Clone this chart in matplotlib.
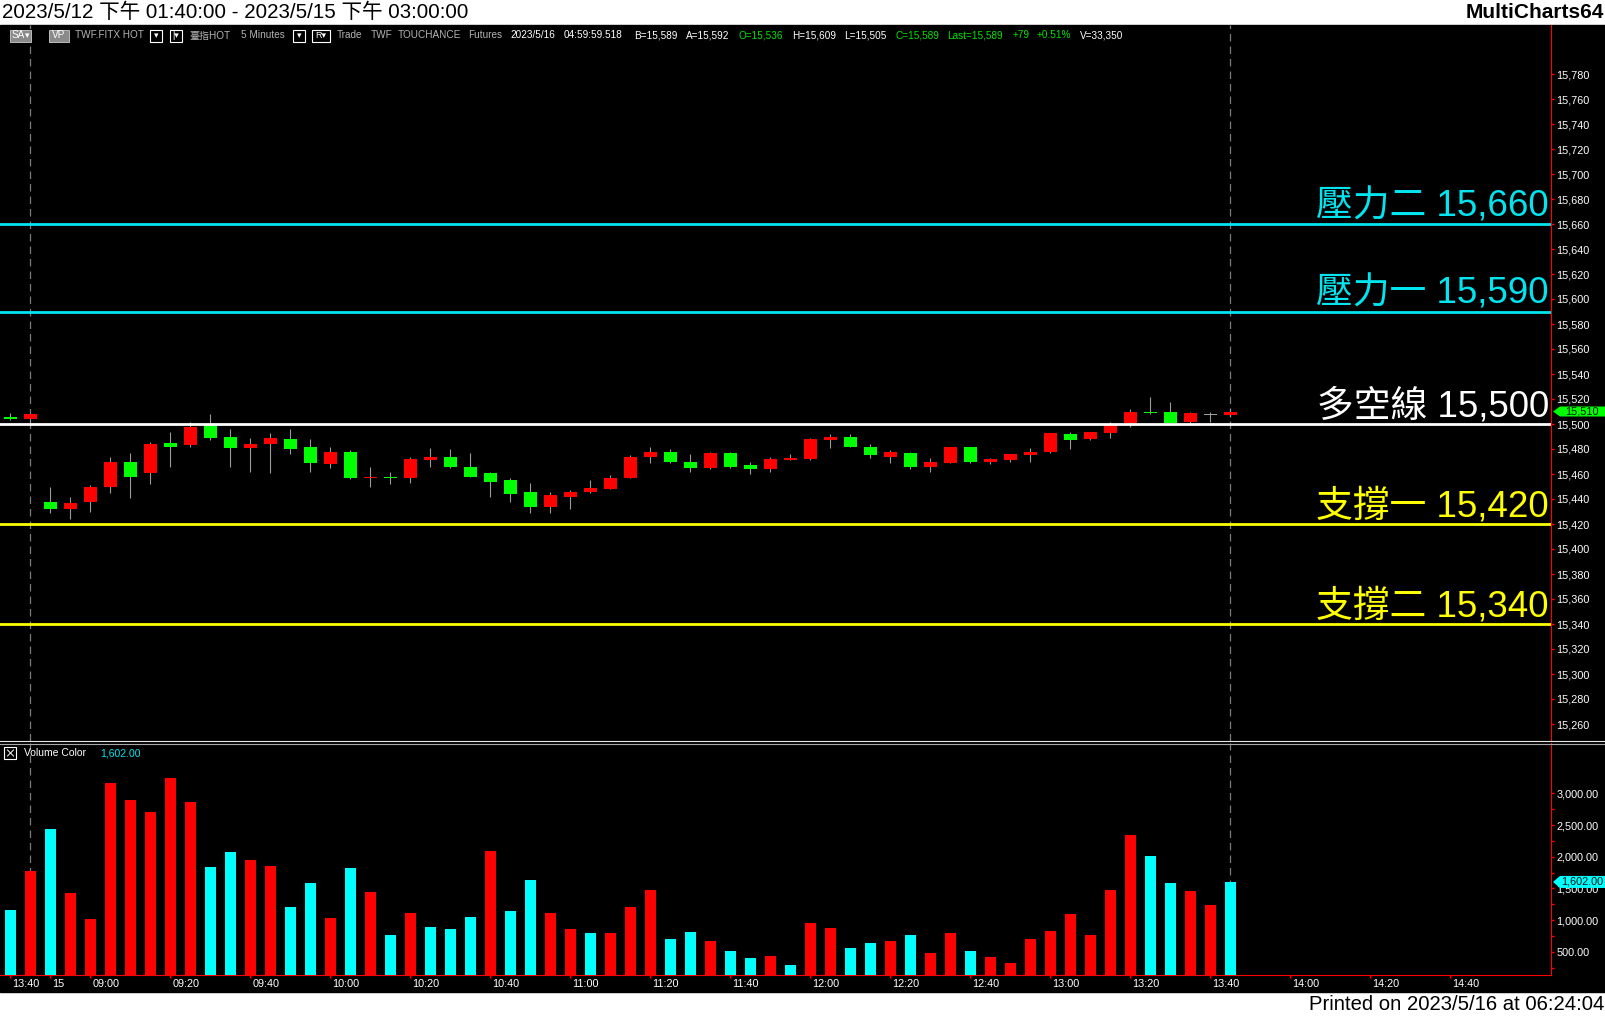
import numpy as np
import matplotlib
matplotlib.use('Agg')
import matplotlib.pyplot as plt
import matplotlib.transforms as mtransforms
from matplotlib.lines import Line2D
from matplotlib.patches import Rectangle, Polygon

plt.rcParams['font.family'] = ['Liberation Sans', 'Noto Sans CJK TC', 'DejaVu Sans']

# --- data (5 min bars, 2023/5/12 13:40 .. 2023/5/15 13:45) ---
opens = [15506, 15504, 15438, 15432, 15438, 15450, 15470, 15461, 15485, 15483, 15500,
         15490, 15481, 15484, 15488, 15482, 15468, 15478, 15457, 15458, 15457,
         15471, 15474, 15466, 15461, 15455, 15446, 15434, 15442, 15446, 15448,
         15457, 15474, 15478, 15470, 15465, 15477, 15467, 15464, 15471, 15472,
         15487, 15490, 15482, 15474, 15477, 15466, 15469, 15482, 15470, 15471,
         15475, 15478, 15492, 15488, 15493, 15501, 15510, 15510, 15502, 15508, 15507]
highs = [15509, 15509, 15450, 15442, 15451, 15474, 15477, 15486, 15494, 15502, 15508,
         15496, 15489, 15493, 15496, 15488, 15482, 15479, 15466, 15462, 15474,
         15481, 15480, 15477, 15462, 15457, 15453, 15446, 15447, 15455, 15459,
         15475, 15482, 15480, 15476, 15478, 15478, 15470, 15474, 15476, 15489,
         15492, 15492, 15484, 15479, 15478, 15473, 15482, 15482, 15473, 15476,
         15481, 15493, 15494, 15494, 15502, 15512, 15522, 15518, 15510, 15510, 15513]
lows = [15503, 15502, 15429, 15424, 15430, 15445, 15441, 15452, 15466, 15482, 15487,
        15466, 15462, 15461, 15476, 15462, 15465, 15456, 15450, 15452, 15453,
        15466, 15465, 15458, 15442, 15438, 15429, 15429, 15432, 15445, 15448,
        15457, 15469, 15469, 15462, 15464, 15465, 15460, 15462, 15471, 15471,
        15481, 15482, 15473, 15469, 15464, 15462, 15469, 15469, 15468, 15470,
        15470, 15477, 15480, 15487, 15489, 15498, 15508, 15501, 15501, 15502, 15506]
closes = [15504, 15508, 15432, 15437, 15450, 15470, 15458, 15484, 15482, 15498, 15489,
          15481, 15484, 15489, 15480, 15469, 15478, 15457, 15458, 15457, 15472,
          15474, 15466, 15458, 15454, 15444, 15434, 15443, 15446, 15449, 15457,
          15474, 15478, 15470, 15465, 15477, 15466, 15464, 15472, 15473, 15488,
          15490, 15482, 15475, 15478, 15466, 15470, 15482, 15470, 15472, 15476,
          15478, 15493, 15487, 15494, 15500, 15510, 15509, 15501, 15509, 15508, 15510]
volumes = [1158, 1774, 2437, 1427, 1016, 3164, 2896, 2706, 3243, 2864, 1838,
           2075, 1949, 1854, 1206, 1585, 1032, 1822, 1443, 764, 1111,
           890, 858, 1048, 2090, 1143, 1633, 1111, 858, 795, 795,
           1206, 1475, 700, 811, 669, 511, 400, 432, 290, 953,
           874, 558, 637, 669, 764, 480, 795, 511, 416, 321,
           700, 827, 1096, 764, 1475, 2343, 2011, 1585, 1459, 1238, 1602]
vol_up = [0, 1, 0, 1, 1, 1, 1, 1, 1, 1, 0,
          0, 1, 1, 0, 0, 1, 0, 1, 0, 1,
          0, 0, 0, 1, 0, 0, 1, 1, 0, 1,
          1, 1, 0, 0, 1, 0, 0, 1, 0, 1,
          1, 0, 0, 1, 0, 1, 1, 0, 1, 1,
          1, 1, 1, 1, 1, 1, 0, 0, 1, 1, 0]
session_ends = [1, 61]

tick_pos = [0, 2, 4, 8, 12, 16, 20, 24, 28, 32, 36, 40, 44, 48, 52, 56, 60, 64, 68, 72]
tick_lbl = ['13:40', '15', '09:00', '09:20', '09:40', '10:00', '10:20', '10:40', '11:00',
            '11:20', '11:40', '12:00', '12:20', '12:40', '13:00', '13:20', '13:40',
            '14:00', '14:20', '14:40']

levels = [15660, 15590, 15500, 15420, 15340]
level_names = ['壓力二', '壓力一', '多空線', '支撐一', '支撐二']
level_colors = ['#00e5f0', '#00e5f0', 'white', '#ffff00', '#ffff00']

price_ticks = list(range(15260, 15781, 20))
vol_ticks = [500, 1000, 1500, 2000, 2500, 3000]

W, H = 1606, 1016
fig = plt.figure(figsize=(W / 100, H / 100), dpi=100, facecolor='white')
px = mtransforms.Affine2D().scale(1 / W, -1 / H).translate(0, 1) + fig.transFigure

fig.add_artist(Rectangle((0, 25), W, 967, transform=px, color='black', zorder=-10))

x = np.arange(len(opens))
o = np.array(opens, float)
c = np.array(closes, float)
XL = (-0.515, 77.03)

# ---------- price panel ----------
ax = fig.add_axes([0, 1 - 741 / H, 1551 / W, 716 / H])
ax.set_facecolor('black')
ax.set_xlim(*XL)
ax.set_ylim(15246.4, 15819.2)

for s in session_ends:
    ax.axvline(s, color='#7a7a7a', lw=0.9, ls=(0, (6, 4)), zorder=1)

ccol = np.where(c > o, '#ff0000', np.where(c < o, '#00ff00', '#a0a0a0'))
body = np.where(c == o, 0.8, c - o)
bot = np.where(c == o, o - 0.4, o)
ax.vlines(x, lows, highs, color='#9a9a9a', lw=0.8, zorder=2)
ax.bar(x, body, bottom=bot, width=0.65, color=ccol, zorder=3)

for lv, nm, col in zip(levels, level_names, level_colors):
    ax.axhline(lv, color=col, lw=2.0, zorder=4)
    ax.text(1549 / 1551, lv + 6, f'{nm} {lv:,}', transform=ax.get_yaxis_transform(),
            ha='right', va='baseline', color=col, fontsize=26.5, weight='light',
            zorder=5)

for sp in ['top', 'left', 'bottom']:
    ax.spines[sp].set_visible(False)
ax.spines['right'].set_color('#ff0000')
ax.yaxis.tick_right()
ax.set_yticks(price_ticks, [f'{t:,}' for t in price_ticks])
ax.tick_params(axis='y', colors='#ff0000', labelcolor='white', length=2.5, width=1,
               pad=1.2, labelsize=7.8)
ax.tick_params(axis='x', bottom=False, labelbottom=False)


def marker(a, yv, half, text, fc):
    tr = a.get_yaxis_transform()
    x0, x1, x2 = 1553 / 1551, 1560 / 1551, 1605 / 1551
    a.add_patch(Polygon([(x0, yv), (x1, yv + half), (x2, yv + half), (x2, yv - half),
                         (x1, yv - half)], closed=True, transform=tr, fc=fc, ec='none',
                        clip_on=False, zorder=10))
    a.text(1582 / 1551, yv, text, transform=tr, ha='center', va='center',
           fontsize=7.8, color='#101010', clip_on=False, zorder=11)


marker(ax, closes[-1], 4, f'{closes[-1]:,}', '#00ff00')

# ---------- volume panel ----------
axv = fig.add_axes([0, 1 - 975 / H, 1551 / W, 232 / H])
axv.set_facecolor('black')
axv.set_xlim(*XL)
axv.set_ylim(132, 3797)
for s in session_ends:
    axv.axvline(s, color='#7a7a7a', lw=0.9, ls=(0, (6, 4)), zorder=1)
vcol = ['#ff0000' if d else '#00ffff' for d in vol_up]
axv.bar(x, volumes, width=0.55, color=vcol, zorder=3)

for sp in ['top', 'left']:
    axv.spines[sp].set_visible(False)
axv.spines['right'].set_color('#ff0000')
axv.spines['bottom'].set_color('#ff0000')
axv.yaxis.tick_right()
axv.set_yticks(vol_ticks, [f'{t:,.2f}' for t in vol_ticks])
axv.set_yticks(np.arange(250, 2751, 500), minor=True)
axv.tick_params(axis='y', which='both', colors='#ff0000', labelcolor='white', width=1,
                pad=1.2, labelsize=7.8)
axv.tick_params(axis='y', which='major', length=2.5)
axv.tick_params(axis='y', which='minor', length=2)
axv.set_xticks(tick_pos, tick_lbl)
axv.tick_params(axis='x', colors='#ff0000', labelcolor='white', length=2.2, width=1,
                pad=1.0, labelsize=7.8)
off = mtransforms.ScaledTranslation(2 / 100, 0, fig.dpi_scale_trans)
for lbl in axv.get_xticklabels():
    lbl.set_horizontalalignment('left')
    lbl.set_transform(lbl.get_transform() + off)

marker(axv, volumes[-1], 95, f'{volumes[-1]:,.2f}', '#00ffff')

# separator between panels
fig.add_artist(Line2D([0, W], [741, 741], transform=px, color='#e6e6e6', lw=0.8))
fig.add_artist(Line2D([0, W], [743.5, 743.5], transform=px, color='#a8a8a8', lw=0.8))

# ---------- header / footer ----------
fig.text(2, 12.5, '2023/5/12 下午 01:40:00 - 2023/5/15 下午 03:00:00', transform=px,
         fontsize=14.8, ha='left', va='center', color='black')
fig.text(1604, 12.5, 'MultiCharts64', transform=px, fontsize=15, weight='bold',
         ha='right', va='center', color='black')
fig.text(1604, 1004, 'Printed on 2023/5/16 at 06:24:04', transform=px, fontsize=14.6,
         ha='right', va='center', color='black')

# toolbar row
ty = 35.5
gray = '#b4b4b4'
green = '#00e400'
fig.add_artist(Rectangle((10, 29.5), 21, 12, transform=px, fc='#8a8a8a', ec='#cfcfcf', lw=0.6))
fig.add_artist(Rectangle((49, 29.5), 20, 12, transform=px, fc='#8a8a8a', ec='#cfcfcf', lw=0.6))
fig.text(12, ty, 'SA', transform=px, fontsize=7.2, color='white', va='center')
fig.text(25, ty, '▾', transform=px, fontsize=6.5, color='white', va='center')
fig.text(51.5, ty, 'VP', transform=px, fontsize=7.2, color='white', va='center')
for bx, bw, bt in [(150, 12, '▾'), (170, 12, '|▾'), (293, 12, '▾'), (312, 18, 'R▾')]:
    fig.add_artist(Rectangle((bx, 29.5), bw, 12, transform=px, fc='black', ec='white', lw=0.8))
    fig.text(bx + bw / 2, ty, bt, transform=px, fontsize=6.5, color='white',
             ha='center', va='center')
tokens = [(75, 'TWF.FITX HOT', gray), (189, '臺指HOT', gray), (241, '5 Minutes', gray),
          (337, 'Trade', gray), (371, 'TWF', gray), (398, 'TOUCHANCE', gray),
          (468, 'Futures', gray), (510, '2023/5/16', 'white'), (564, '04:59:59.518', 'white'),
          (634, 'B=15,589', 'white'), (686, 'A=15,592', 'white'), (739, 'O=15,536', green),
          (792, 'H=15,609', 'white'), (844, 'L=15,505', 'white'), (896, 'C=15,589', green),
          (947, 'Last=15,589', green), (1013, '+79', green), (1037, '+0.51%', green),
          (1080, 'V=33,350', 'white')]
for tx, tt, tc in tokens:
    fig.text(tx, ty, tt, transform=px, fontsize=7.2, color=tc, ha='left', va='center')

# volume label row
fig.add_artist(Rectangle((4.5, 747), 12, 12, transform=px, fc='black', ec='white', lw=0.8))
fig.add_artist(Line2D([7.5, 13.5], [750, 756], transform=px, color='white', lw=0.7))
fig.add_artist(Line2D([7.5, 13.5], [756, 750], transform=px, color='white', lw=0.7))
fig.text(24, 753, 'Volume Color', transform=px, fontsize=7.5, color='white', va='center')
fig.text(100, 753, f'{volumes[-1]:,.2f}', transform=px, fontsize=7.5, color='#00e5f0',
         va='center')

fig.savefig('out.png', dpi=100, facecolor='white')
